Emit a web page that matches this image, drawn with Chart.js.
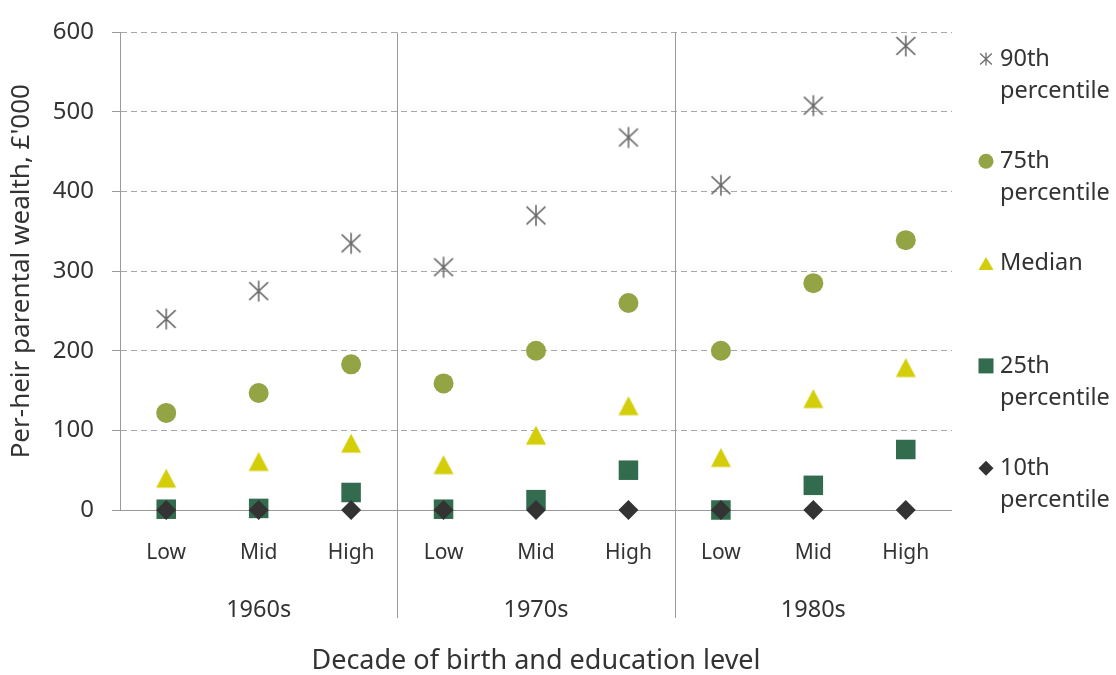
<!DOCTYPE html>
<html>
<head>
<meta charset="utf-8">
<script src="https://cdn.jsdelivr.net/npm/chart.js@4.4.0/dist/chart.umd.min.js"></script>
<style>
  html, body { margin: 0; padding: 0; background: #fff; }
  #wrap { width: 1116px; height: 675px; }
</style>
</head>
<body>
<div id="wrap"><canvas id="chart"></canvas></div>
<script>
// decades and education levels -> 9 categories
const decades = ['1960s', '1970s', '1980s'];
const levels = ['Low', 'Mid', 'High'];

// per-heir parental wealth, £'000
const p90 = [240, 275, 335, 305, 370, 468, 408, 508, 583];
const p75 = [122, 147, 183, 159, 200, 260, 200, 285, 339];
const median = [40, 61, 84, 57, 94, 131, 66, 140, 179];
const p25 = [1, 2, 22, 1, 13, 50, 0, 31, 76];
const p10 = [0, 0, 0, 0, 0, 0, 0, 0, 0];

const legendNames = [['90th', 'percentile'], ['75th', 'percentile'], ['Median'], ['25th', 'percentile'], ['10th', 'percentile']];

const FONT = "'Noto Sans', 'Open Sans', sans-serif";
const TEXT = '#333333';
const COL = {
  star: '#6b6b6b',
  circle: '#93a445',
  tri: '#d4ce0a',
  square: '#336b4f',
  diamond: '#333333'
};

const labels = [];
decades.forEach(() => levels.forEach(l => labels.push(l)));

function markerCanvas(w, h, draw) {
  const c = document.createElement('canvas');
  c.width = w; c.height = h;
  draw(c.getContext('2d'), w, h);
  return c;
}

function drawStar(g, cx, cy, s) {
  g.beginPath();
  g.moveTo(cx, cy - s / 2); g.lineTo(cx, cy + s / 2);
  g.moveTo(cx - s * 0.45, cy - s * 0.42); g.lineTo(cx + s * 0.45, cy + s * 0.42);
  g.moveTo(cx + s * 0.45, cy - s * 0.42); g.lineTo(cx - s * 0.45, cy + s * 0.42);
  g.stroke();
}

function drawTri(g, cx, cy, w, h) {
  g.beginPath();
  g.moveTo(cx, cy - h / 2);
  g.lineTo(cx + w / 2, cy + h / 2);
  g.lineTo(cx - w / 2, cy + h / 2);
  g.closePath();
  g.fill();
}

const starImg = markerCanvas(24, 24, (g) => {
  g.strokeStyle = COL.star; g.lineWidth = 1.6;
  drawStar(g, 12, 12, 21);
});
const triImg = markerCanvas(22, 22, (g) => {
  g.fillStyle = COL.tri;
  drawTri(g, 11, 11, 20, 19);
});

const groupPlugin = {
  id: 'groups',
  afterDraw(chart) {
    const { ctx, chartArea, scales } = chart;
    const x = scales.x;
    ctx.save();
    // separators between decades
    ctx.strokeStyle = '#999';
    ctx.lineWidth = 1;
    for (let d = 1; d < decades.length; d++) {
      const px = Math.round((x.getPixelForValue(d * 3 - 1) + x.getPixelForValue(d * 3)) / 2) + 0.5;
      ctx.beginPath();
      ctx.moveTo(px, chartArea.top);
      ctx.lineTo(px, chartArea.bottom + 108);
      ctx.stroke();
    }
    // decade labels
    ctx.fillStyle = TEXT;
    ctx.font = '23.5px ' + FONT;
    ctx.textAlign = 'center';
    ctx.textBaseline = 'middle';
    decades.forEach((d, i) => {
      ctx.fillText(d, x.getPixelForValue(i * 3 + 1), chartArea.bottom + 100);
    });

    // legend
    const lx = 986, tx = 1000, top = 59, gap = 102.3, lineH = 32.5;
    ctx.textAlign = 'left';
    ctx.font = '23.5px ' + FONT;
    legendNames.forEach((name, i) => {
      const y = top + i * gap;
      name.forEach((t, j) => ctx.fillText(t, tx, y + j * lineH));
    });
    // symbols
    ctx.strokeStyle = COL.star; ctx.lineWidth = 1.3;
    drawStar(ctx, lx, top, 13);
    ctx.fillStyle = COL.circle;
    ctx.beginPath(); ctx.arc(lx, top + gap, 7.5, 0, Math.PI * 2); ctx.fill();
    ctx.fillStyle = COL.tri;
    drawTri(ctx, lx, top + gap * 2, 15, 13);
    ctx.fillStyle = COL.square;
    ctx.fillRect(lx - 7.5, top + gap * 3 - 7.5, 15, 15);
    ctx.fillStyle = COL.diamond;
    ctx.beginPath();
    const dy = top + gap * 4;
    ctx.moveTo(lx, dy - 7.5); ctx.lineTo(lx + 7.5, dy); ctx.lineTo(lx, dy + 7.5); ctx.lineTo(lx - 7.5, dy);
    ctx.closePath(); ctx.fill();
    ctx.restore();
  }
};

const pointSet = (label, data, style, radius, color) => ({
  label, data,
  showLine: false,
  pointStyle: style,
  pointRadius: radius,
  pointHoverRadius: radius,
  pointBackgroundColor: color,
  pointBorderColor: color,
  pointBorderWidth: 0,
  clip: false
});

new Chart(document.getElementById('chart'), {
  type: 'line',
  data: {
    labels,
    // first dataset is drawn on top
    datasets: [
      pointSet('10th percentile', p10, 'rectRot', 10, COL.diamond),
      pointSet('25th percentile', p25, 'rect', 13.8, COL.square),
      pointSet('Median', median, triImg, 10, COL.tri),
      pointSet('75th percentile', p75, 'circle', 10, COL.circle),
      pointSet('90th percentile', p90, starImg, 11, COL.star)
    ]
  },
  options: {
    responsive: true,
    maintainAspectRatio: false,
    animation: false,
    events: [],
    layout: { padding: { left: 9, top: 30, right: 164, bottom: 0 } },
    plugins: {
      legend: { display: false },
      tooltip: { enabled: false }
    },
    scales: {
      x: {
        offset: true,
        grid: { display: false, drawTicks: false },
        border: { display: false },
        ticks: { color: TEXT, font: { family: FONT, size: 21 }, padding: 30, maxRotation: 0 },
        title: {
          display: true,
          text: 'Decade of birth and education level',
          color: TEXT,
          font: { family: FONT, size: 27, lineHeight: 1 },
          padding: { top: 0, bottom: 0 }
        },
        afterFit: s => { s.height = 165; }
      },
      y: {
        min: 0,
        max: 600,
        ticks: { stepSize: 100, color: TEXT, font: { family: FONT, size: 24 }, padding: 18 },
        grid: {
          color: c => (c.tick && c.tick.value === 0 ? '#999' : '#a8a8a8'),
          tickColor: '#999',
          tickLength: 8,
          lineWidth: 1
        },
        border: {
          display: true,
          color: '#999',
          dash: c => (c.tick && c.tick.value === 0 ? [] : [6, 4])
        },
        title: {
          display: true,
          text: "Per-heir parental wealth, £'000",
          color: TEXT,
          font: { family: FONT, size: 26, lineHeight: 1 },
          padding: { top: 0, bottom: 0 }
        },
        afterFit: s => { s.width = 111; }
      }
    }
  },
  plugins: [groupPlugin]
});
</script>
</body>
</html>
